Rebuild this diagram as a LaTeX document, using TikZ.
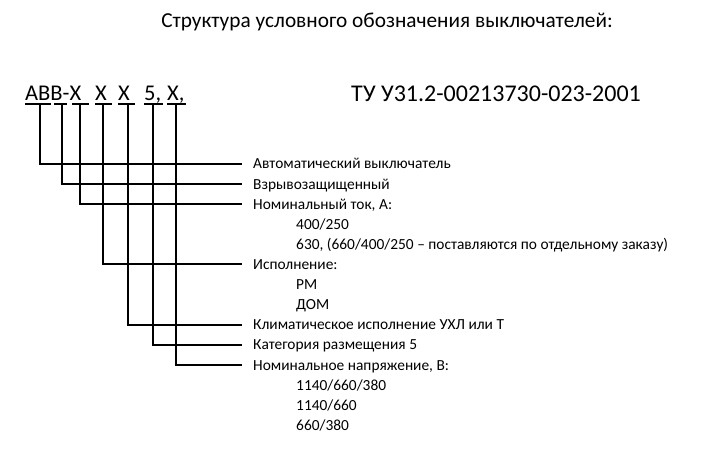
\documentclass[tikz,border=0pt]{standalone}
\usepackage{fontspec}
\setmainfont{Carlito}
\begin{document}
\begin{tikzpicture}[x=1pt,y=-1pt,
  lbl/.style={anchor=base west,inner sep=0pt,font=\fontsize{15.4}{18}\selectfont},
  big/.style={anchor=base west,inner sep=0pt,font=\fontsize{22.5}{26}\selectfont},
  conn/.style={line width=1.2pt,black}]
\useasboundingbox (0,0) rectangle (725,449);
\node[big,anchor=base,font=\fontsize{21.3}{26}\selectfont] (title) at (387,28) {Структура условного обозначения выключателей:};
\node[big] (c1) at (25,101) {АВВ-Х};
\node[big] (c2) at (95,101) {Х};
\node[big] (c3) at (118,101) {Х};
\node[big] (c4) at (144,101) {5,};
\node[big] (c5) at (167,101) {Х,};
\node[big,anchor=base,font=\fontsize{24}{28}\selectfont] (tu) at (496,102) {ТУ У31.2-00213730-023-2001};
% underlines
\foreach \a/\b in {25/51,54/67,72/89,95/112,118/135,144/163,167/186}
  \draw[conn] (\a,104) -- (\b,104);
% labels
\def\bl#1{169+20.1*#1}
\node[lbl] (l1) at (253,{\bl{0}}) {Автоматический выключатель};
\node[lbl] (l2) at (253,{\bl{1}}) {Взрывозащищенный};
\node[lbl] (l3) at (253,{\bl{2}}) {Номинальный ток, А:};
\node[lbl] (l3a) at (296,{\bl{3}}) {400/250};
\node[lbl] (l3b) at (296,{\bl{4}}) {630, (660/400/250 – поставляются по отдельному заказу)};
\node[lbl] (l4) at (253,{\bl{5}}) {Исполнение:};
\node[lbl] (l4a) at (296,{\bl{6}}) {РМ};
\node[lbl] (l4b) at (296,{\bl{7}}) {ДОМ};
\node[lbl] (l5) at (253,{\bl{8}}) {Климатическое исполнение УХЛ или Т};
\node[lbl] (l6) at (253,{\bl{9}}) {Категория размещения 5};
\node[lbl] (l7) at (253,{\bl{10}}) {Номинальное напряжение, В:};
\node[lbl] (l7a) at (296,{\bl{11}}) {1140/660/380};
\node[lbl] (l7b) at (296,{\bl{12}}) {1140/660};
\node[lbl] (l7c) at (296,{\bl{13}}) {660/380};
% connector tops and ends
\foreach \i/\x/\y in {1/40/164,2/62/184,3/80/204,4/103/264,5/128/325,6/153/345,7/176/365}{
  \coordinate (t\i) at (\x,104);
  \coordinate (e\i) at (242,\y);
  \draw[conn] (t\i) |- (e\i);
}
\end{tikzpicture}
\end{document}
